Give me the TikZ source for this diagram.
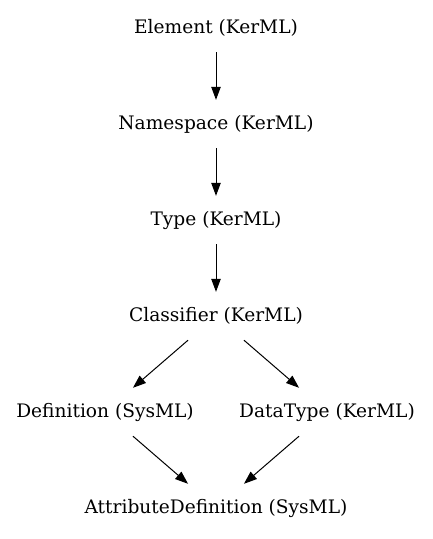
\documentclass[tikz,border=0pt]{standalone}
\usepackage{fontspec}
\setmainfont{DejaVu Serif}
\usetikzlibrary{arrows.meta}
\begin{document}
\begin{tikzpicture}[x=1pt,y=-1pt,
  lbl/.style={draw=none,rectangle,minimum height=48pt,inner sep=0pt,font=\fontsize{18.6}{21}\selectfont},
  edge/.style={line width=1pt,-{Triangle[length=13pt,width=9.5pt]}}]
\useasboundingbox (0,0) rectangle (432,539);
\node[lbl] (el) at (216,28) {Element (KerML)};
\node[lbl] (ns) at (216,124) {Namespace (KerML)};
\node[lbl] (ty) at (216,220) {Type (KerML)};
\node[lbl] (cl) at (216,316) {Classifier (KerML)};
\node[lbl] (de) at (105,412) {Definition (SysML)};
\node[lbl] (dt) at (327,412) {DataType (KerML)};
\node[lbl] (ad) at (216,508) {AttributeDefinition (SysML)};
\draw[edge] (el) -- (ns);
\draw[edge] (ns) -- (ty);
\draw[edge] (ty) -- (cl);
\draw[edge] (cl) -- (de);
\draw[edge] (cl) -- (dt);
\draw[edge] (de) -- (ad);
\draw[edge] (dt) -- (ad);
\end{tikzpicture}
\end{document}
